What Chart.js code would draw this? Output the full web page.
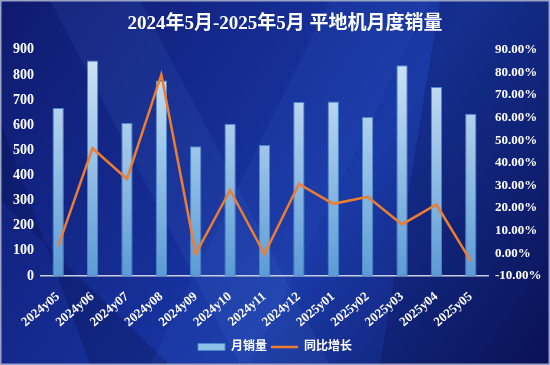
<!DOCTYPE html>
<html>
<head>
<meta charset="utf-8">
<script src="https://cdn.jsdelivr.net/npm/chart.js@4.4.1/dist/chart.umd.min.js"></script>
<style>
  html, body { margin: 0; padding: 0; background: #0e1766; }
  #wrap { width: 550px; height: 365px; }
</style>
</head>
<body>
<div id="wrap"><canvas id="salesChart"></canvas></div>
<script>
var months = ["2024y05", "2024y06", "2024y07", "2024y08", "2024y09", "2024y10", "2024y11",
              "2024y12", "2025y01", "2025y02", "2025y03", "2025y04", "2025y05"];
var monthlySales = [668, 857, 609, 778, 516, 606, 521, 692, 694, 633, 839, 752, 646];
var yoyGrowth = [3.2, 46.5, 32.9, 79.0, -0.2, 27.9, -0.3, 30.7, 21.9, 25.0, 12.8, 21.6, -3.4];
var salesTicks = [0, 900, 100];
var growthTicks = [-10, 90, 10];

var serif = "'Liberation Serif', 'DejaVu Serif', 'Noto Sans CJK SC', serif";

// background painted behind everything
var bgPlugin = {
    id: 'bg',
    afterLayout: function(chart) {
        // title in the original sits a bit right of centre
        if (chart.titleBlock) chart.titleBlock.left += 20;
    },
    beforeDraw: function(chart) {
        var c = chart.ctx, w = chart.width, h = chart.height;
        c.save();
        var g = c.createLinearGradient(0, 0, w, h);
        g.addColorStop(0, '#0f1a6e');
        g.addColorStop(0.45, '#16309a');
        g.addColorStop(0.6, '#1a3aa6');
        g.addColorStop(1, '#0c155e');
        c.fillStyle = g;
        c.fillRect(0, 0, w, h);
        // diagonal light streaks
        c.fillStyle = 'rgba(90,140,230,0.10)';
        c.beginPath(); c.moveTo(50, 0); c.lineTo(140, 0); c.lineTo(330, h); c.lineTo(240, h); c.closePath(); c.fill();
        c.fillStyle = 'rgba(5,10,60,0.25)';
        c.beginPath(); c.moveTo(0, 120); c.lineTo(0, 200); c.lineTo(170, h); c.lineTo(90, h); c.closePath(); c.fill();
        c.fillStyle = 'rgba(80,130,230,0.08)';
        c.beginPath(); c.moveTo(330, 0); c.lineTo(430, 0); c.lineTo(250, h); c.lineTo(150, h); c.closePath(); c.fill();
        c.fillStyle = 'rgba(5,10,60,0.22)';
        c.beginPath(); c.moveTo(440, 0); c.lineTo(w, 0); c.lineTo(w, h); c.lineTo(380, h); c.closePath(); c.fill();
        c.strokeStyle = '#9aa3c4';
        c.lineWidth = 1.5;
        c.strokeRect(0.75, 0.75, w - 1.5, h - 1.5);
        c.restore();
    }
};

function barGradient(context) {
    var area = context.chart.chartArea;
    if (!area) return '#8fbfe8';
    var g = context.chart.ctx.createLinearGradient(0, area.top, 0, area.bottom);
    g.addColorStop(0, '#d3e6f7');
    g.addColorStop(1, '#5b9bd5');
    return g;
}

var ctx = document.getElementById('salesChart').getContext('2d');
var chart = new Chart(ctx, {
    type: 'bar',
    data: {
        labels: months,
        datasets: [{
            type: 'bar',
            label: '月销量',
            data: monthlySales,
            yAxisID: 'y',
            backgroundColor: barGradient,
            borderColor: '#4a88cc',
            borderWidth: 1,
            barPercentage: 0.33,
            categoryPercentage: 1,
            order: 1
        }, {
            type: 'line',
            label: '同比增长',
            data: yoyGrowth,
            yAxisID: 'y1',
            borderColor: '#ee7d2e',
            backgroundColor: '#ee7d2e',
            borderWidth: 2.5,
            pointRadius: 0,
            tension: 0,
            order: 0
        }]
    },
    options: {
        responsive: true,
        maintainAspectRatio: false,
        animation: false,
        layout: { padding: { left: 0, right: 0, top: 0, bottom: 2 } },
        plugins: {
            title: {
                display: true,
                text: '2024年5月-2025年5月 平地机月度销量',
                color: '#ffffff',
                font: { family: serif, size: 19, weight: 'bold' },
                padding: { top: 13, bottom: 14 }
            },
            legend: {
                position: 'bottom',
                labels: {
                    color: '#ffffff',
                    font: { family: serif, size: 12, weight: 'bold' },
                    usePointStyle: true,
                    pointStyleWidth: 27,
                    boxHeight: 7,
                    padding: 4,
                    sort: function(a, b) { return a.datasetIndex - b.datasetIndex; },
                    generateLabels: function(ch) {
                        var items = Chart.defaults.plugins.legend.labels.generateLabels(ch);
                        items.forEach(function(it) {
                            if (it.datasetIndex === 0) {
                                it.pointStyle = 'rect';
                                it.fillStyle = '#8fc0ea';
                                it.strokeStyle = '#4a88cc';
                                it.lineWidth = 1;
                            } else {
                                it.pointStyle = 'line';
                                it.strokeStyle = '#ee7d2e';
                                it.lineWidth = 2.5;
                            }
                        });
                        return items;
                    }
                }
            },
            tooltip: { enabled: false }
        },
        scales: {
            x: {
                grid: { display: false, drawTicks: false },
                border: { display: true, color: '#c9cde0', width: 1.5 },
                afterFit: function(s) { s.height = 61; },
                ticks: {
                    color: '#ffffff',
                    font: { family: serif, size: 13, weight: 'bold' },
                    maxRotation: 40,
                    minRotation: 40,
                    padding: 13
                }
            },
            y: {
                position: 'left',
                min: salesTicks[0],
                max: salesTicks[1],
                afterFit: function(s) { s.width = 41; },
                grid: { display: false, drawTicks: false },
                border: { display: false },
                ticks: {
                    stepSize: salesTicks[2],
                    color: '#ffffff',
                    font: { family: serif, size: 14, weight: 'bold' },
                    padding: 7
                }
            },
            y1: {
                position: 'right',
                min: growthTicks[0],
                max: growthTicks[1],
                afterFit: function(s) { s.width = 62; },
                grid: { display: false, drawTicks: false },
                border: { display: false },
                ticks: {
                    stepSize: growthTicks[2],
                    color: '#ffffff',
                    font: { family: serif, size: 13, weight: 'bold' },
                    padding: 7,
                    callback: function(v) { return v.toFixed(2) + '%'; }
                }
            }
        }
    },
    plugins: [bgPlugin]
});
</script>
</body>
</html>
